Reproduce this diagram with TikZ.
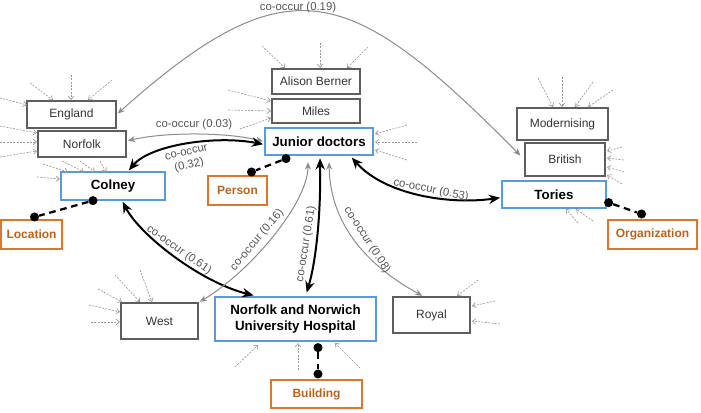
\documentclass[tikz,border=0pt]{standalone}
\usepackage{fontspec}
\setmainfont{Liberation Sans}
\usetikzlibrary{arrows.meta,calc}
\definecolor{boxgray}{HTML}{5E5E5E}
\definecolor{txtgray}{HTML}{333333}
\definecolor{entblue}{HTML}{5B9BD5}
\definecolor{typeorange}{HTML}{D9782D}
\definecolor{typetext}{HTML}{B8641F}
\definecolor{lblgray}{HTML}{555555}
\definecolor{linkgray}{HTML}{8C8C8C}
\definecolor{stubgray}{HTML}{9A9A9A}
\newdimen\upx \upx=0.75pt
\tikzset{
  sz/.style 2 args={minimum width=#1\upx, minimum height=#2\upx},
  plainbox/.style={draw=boxgray, line width=0.9pt, text=txtgray,
    font=\fontsize{9}{11}\selectfont, inner sep=0pt},
  entbox/.style={draw=entblue, line width=0.9pt, text=black,
    font=\fontsize{10}{12}\selectfont\bfseries, inner sep=0pt, align=center},
  typebox/.style={draw=typeorange, line width=1.5pt, text=typetext,
    font=\fontsize{9}{11}\selectfont\bfseries, inner sep=0pt},
  graylink/.style={draw=linkgray, line width=0.75pt,
    {Stealth[length=5.5pt,width=4.5pt]}-{Stealth[length=5.5pt,width=4.5pt]},
    shorten <=1pt, shorten >=1pt},
  blacklink/.style={draw=black, line width=1.5pt,
    {Stealth[length=8.5pt,width=7pt]}-{Stealth[length=8.5pt,width=7pt]},
    shorten <=1pt, shorten >=1pt},
  stub/.style={draw=stubgray, line width=0.5pt, dash pattern=on 1.5pt off 1pt,
    -{Straight Barb[length=2.5pt,width=4pt]}},
  typelink/.style={draw=black, line width=1.7pt, dash pattern=on 5pt off 3.5pt},
  dotend/.style={circle, fill=black, inner sep=0pt, minimum size=6.8pt},
  cooc/.style={text=lblgray, font=\fontsize{8.5}{10}\selectfont, inner sep=0pt, align=center}
}
\begin{document}
\begin{tikzpicture}[x=0.75pt, y=-0.75pt]
\useasboundingbox (0,0) rectangle (701,412);

% entity boxes
\node[plainbox, sz={89}{27}] (england) at (71.5,114.5) {England};
\node[plainbox, sz={88}{26}] (norfolk) at (82,144) {Norfolk};
\node[entbox,   sz={104}{28}] (colney) at (113,186) {Colney};
\node[plainbox, sz={88}{25}] (alison) at (316,81.5) {Alison Berner};
\node[plainbox, sz={88}{24}] (miles) at (316,111) {Miles};
\node[entbox,   sz={108}{27}] (jd) at (319,141.5) {Junior doctors};
\node[plainbox, sz={91}{32}] (modern) at (562.5,124) {Modernising};
\node[plainbox, sz={80}{33}] (british) at (565,159.5) {British};
\node[entbox,   sz={104}{27}] (tories) at (554,194.5) {Tories};
\node[plainbox, sz={77}{36}] (west) at (159.5,321) {West};
\node[entbox,   sz={161}{44}] (hosp) at (295.5,319) {Norfolk and Norwich\\University Hospital};
\node[plainbox, sz={77}{36}] (royal) at (431.5,315) {Royal};

% type boxes
\node[typebox, sz={59}{29}] (person) at (237.5,190.5) {Person};
\node[typebox, sz={61}{29}] (location) at (31.5,234.5) {Location};
\node[typebox, sz={89}{29}] (org) at (652.5,234.5) {Organization};
\node[typebox, sz={91}{28}] (building) at (316.5,394) {Building};

% co-occurrence links
\draw[graylink] (england.east) .. controls (290,-40) and (350,-16) .. ([xshift=-3\upx,yshift=3\upx]british.west);
\draw[graylink] ([yshift=3\upx]norfolk.east) .. controls (165,132) and (225,132) .. (jd.west);
\draw[blacklink] ([xshift=15\upx]colney.north) .. controls (150,145) and (215,135) .. ([yshift=-3\upx]jd.west);
\draw[blacklink, shorten >=3pt] ([xshift=9\upx]colney.south) .. controls (140,235) and (200,282) .. ([xshift=-38\upx]hosp.north);
\draw[graylink, shorten >=5pt] (west.north east) .. controls (250,272) and (308,203) .. ([xshift=-11\upx]jd.south);
\draw[blacklink, shorten <=2pt, shorten >=3pt] ([xshift=1\upx]jd.south) .. controls (321,220) and (315,265) .. ([xshift=10\upx]hosp.north);
\draw[graylink, shorten <=5pt] ([xshift=10\upx]jd.south) .. controls (330,230) and (375,270) .. ([xshift=-8\upx]royal.north);
\draw[blacklink, shorten <=2pt] ([xshift=31\upx]jd.south) .. controls (385,195) and (450,205) .. ([yshift=-3\upx]tories.west);

% link labels
\node[cooc] (l019) at (298,8) {co-occur (0.19)};
\node[cooc] (l003) at (194,125) {co-occur (0.03)};
\node[cooc, rotate=13] (l032) at (188,160) {co-occur\\(0.32)};
\node[cooc, rotate=-35] (l061a) at (179,250) {co-occur (0.61)};
\node[cooc, rotate=50] (l016) at (257,240) {co-occur (0.16)};
\node[cooc, rotate=81] (l061b) at (306,244) {co-occur (0.61)};
\node[cooc, rotate=-57] (l008) at (367,240) {co-occur (0.08)};
\node[cooc, rotate=-11] (l053) at (431,190) {co-occur (0.53)};

% type links
\node[dotend] (dc1) at ($(colney.south)+(-20,0)$) {};
\node[dotend] (dc2) at ($(location.north)+(3,-2)$) {};
\draw[typelink] (dc1) -- (dc2);
\node[dotend] (dp1) at ($(jd.south)+(-33,3)$) {};
\node[dotend] (dp2) at ($(person.north)+(14,-3)$) {};
\draw[typelink] (dp1) -- (dp2);
\node[dotend] (do1) at ($(tories.south east)+(2,-6)$) {};
\node[dotend] (do2) at ($(org.north)+(-11,-5)$) {};
\draw[typelink] (do1) -- (do2);
\node[dotend] (db1) at ($(hosp.south)+(22.5,6)$) {};
\node[dotend] (db2) at ($(building.north)+(1.5,-5)$) {};
\draw[typelink] (db1) -- (db2);

% incoming context stubs (tail point / head point)
\foreach \xa/\ya/\xb/\yb in {
  30/83/53/100, 71/75/71/100, 112/80/88/100, 0/98/27/105,          % England
  0/126/37/133, 0/142/37/142, 0/157/37/151,                       % Norfolk
  43/164/68/172, 62/161/84/172, 80/161/95/172, 100/161/106/172, 37/177/60/179, % Colney
  262/46/285/68, 320/43/320/68, 368/47/347/68,                    % Alison Berner
  228/90/271/101, 228/110/271/111, 240/129/271/118,               % Miles
  407/125/375/134, 417/142/375/142, 407/160/375/150,              % Junior doctors
  538/78/553/107, 562/77/562/107, 593/82/575/107, 613/90/588/107, % Modernising
  622/147/607/151, 624/160/607/158, 624/172/607/167, 622/184/607/175, % British
  578/223/566/209, 593/221/576/209,                               % Tories
  115/275/140/302, 140/270/152/302, 98/289/122/302, 89/305/120/312, 91/322/120/322, % West
  478/280/457/296, 495/301/472/306, 500/324/472/321,              % Royal
  235/367/258/345, 298/370/298/343, 360/368/335/343}              % Hospital
  {\draw[stub] (\xa,\ya) -- (\xb,\yb);}
\end{tikzpicture}
\end{document}
